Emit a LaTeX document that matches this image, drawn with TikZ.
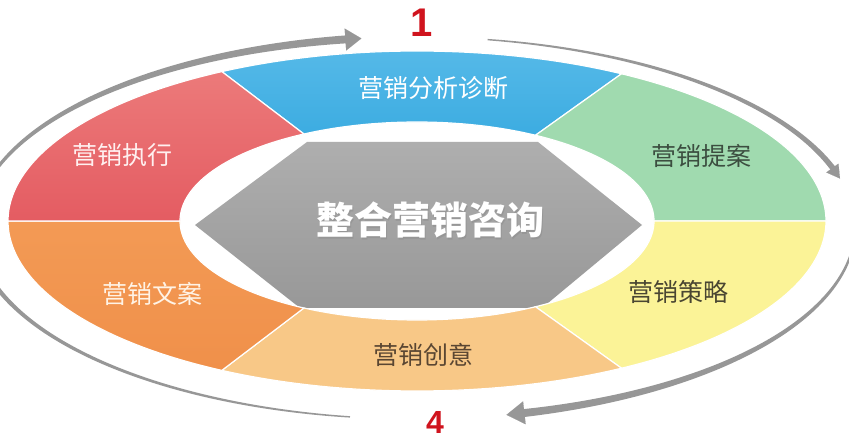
\documentclass[tikz,border=0pt]{standalone}
\usepackage{fontspec}
\newfontfamily\cjk{Noto Sans CJK SC}
\newfontfamily\numfont{Liberation Sans}
\usetikzlibrary{arrows.meta}
\definecolor{segblue}{HTML}{3CACE1}
\definecolor{segblueT}{HTML}{55B9E8}
\definecolor{seggreen}{HTML}{A0DAAF}
\definecolor{segyellow}{HTML}{FBF397}
\definecolor{seglorange}{HTML}{F8C887}
\definecolor{segorange}{HTML}{F0904A}
\definecolor{segorangeT}{HTML}{F39A55}
\definecolor{segred}{HTML}{E45C62}
\definecolor{segredT}{HTML}{EC7A7A}
\definecolor{hexgrey}{HTML}{A0A0A0}
\definecolor{arrowgrey}{HTML}{979797}
\definecolor{numred}{HTML}{D0141E}
\tikzset{
  seglabel/.style={font=\cjk\fontsize{25}{25}\selectfont, inner sep=0pt},
  numlabel/.style={font=\numfont\bfseries, text=numred, inner sep=0pt},
  sepline/.style={draw=white, line width=1.2pt},
  arrowfill/.style={fill=arrowgrey},
}
% ring segment between parametric angles #1 and #2
\newcommand\ringseg[3]{%
  \path[#3] plot[domain=#1:#2,samples=60] ({417+409*cos(\x)},{221-170*sin(\x)})
    -- plot[domain=#2:#1,samples=60] ({417+237*cos(\x)},{221-99*sin(\x)}) -- cycle;}
% tapered arc band from angle #1 to #2, half width #3 -> #4
\newcommand\taper[4]{%
  \fill[arrowfill] plot[domain=#1:#2,samples=90]
    ({415+(440+(#3)+((#4)-(#3))*(\x-(#1))/((#2)-(#1)))*cos(\x)},{228-(191+(#3)+((#4)-(#3))*(\x-(#1))/((#2)-(#1)))*sin(\x)})
    -- plot[domain=#2:#1,samples=90]
    ({415+(440-(#3)-((#4)-(#3))*(\x-(#1))/((#2)-(#1)))*cos(\x)},{228-(191-(#3)-((#4)-(#3))*(\x-(#1))/((#2)-(#1)))*sin(\x)}) -- cycle;}
\begin{document}
\begin{tikzpicture}[x=1pt,y=-1pt]
\useasboundingbox (0,0) rectangle (849,443);
\clip (0,0) rectangle (849,443);
\fill[white] (0,0) rectangle (849,443);

% outer arrows
\taper{178}{98.5}{1.1}{4}
\taper{80.5}{17.5}{0.7}{3}
\taper{2}{-75.8}{0.7}{4}
\taper{261.5}{180}{0.7}{2.8}
\coordinate (tipA) at ({415+440*cos(97)},{228-191*sin(97)});
\coordinate (backA) at ({415+440*cos(101)},{228-191*sin(101)});
\coordinate (tipB) at ({415+440*cos(15)},{228-191*sin(15)});
\coordinate (backB) at ({415+440*cos(20)},{228-191*sin(20)});
\coordinate (tipC) at ({415+440*cos(-78)},{228-191*sin(-78)});
\coordinate (backC) at ({415+440*cos(-73)},{228-191*sin(-73)});
\draw[arrowgrey, line width=0.1pt, -{Triangle[length=16pt,width=22pt]}] (backA) -- (tipA);
\draw[arrowgrey, line width=0.1pt, -{Triangle[length=13pt,width=15pt]}] (backB) -- (tipB);
\draw[arrowgrey, line width=0.1pt, -{Triangle[length=18pt,width=23pt]}] (backC) -- (tipC);

% central hexagon
\shade[top color=hexgrey!85!white, bottom color=hexgrey!95!black]
  (195,225) -- (307,142) -- (538,142) -- (642,225) -- (542,308) -- (300,308) -- cycle;

% ring segments
\ringseg{60}{118.5}{shade, top color=segblueT, bottom color=segblue, sepline}
\ringseg{0}{60}{fill=seggreen, sepline}
\ringseg{-60}{0}{fill=segyellow, sepline}
\ringseg{-118.5}{-60}{fill=seglorange, sepline}
\ringseg{180}{241.5}{shade, top color=segorangeT, bottom color=segorange, sepline}
\ringseg{118.5}{180}{shade, top color=segredT, bottom color=segred, sepline}

% labels
\node[seglabel, text=white] (analyse) at (433,88) {营销分析诊断};
\node[seglabel, text={rgb,255:red,60;green,78;blue,64}] (proposal) at (701,156) {营销提案};
\node[seglabel, text={rgb,255:red,74;green,70;blue,50}] (strategy) at (678,292) {营销策略};
\node[seglabel, text={rgb,255:red,90;green,70;blue,50}] (creative) at (423,355) {营销创意};
\node[seglabel, text={rgb,255:red,255;green,243;blue,230}] (copy) at (152,294) {营销文案};
\node[seglabel, text={rgb,255:red,255;green,240;blue,240}] (execute) at (122,155) {营销执行};

% centre text
\node[font=\cjk\bfseries\fontsize{38}{38}\selectfont, text=black!45, opacity=0.5, inner sep=0pt] (centreshadow) at (431.5,221.5) {整合营销咨询};
\node[font=\cjk\bfseries\fontsize{38}{38}\selectfont, text=white, inner sep=0pt] (centre) at (430,220) {整合营销咨询};

% numbers
\node[numlabel, font=\numfont\bfseries\fontsize{40}{40}\selectfont] (one) at (422,23) {1};
\node[numlabel, font=\numfont\bfseries\fontsize{32}{32}\selectfont] (four) at (435,422) {4};
\end{tikzpicture}
\end{document}
